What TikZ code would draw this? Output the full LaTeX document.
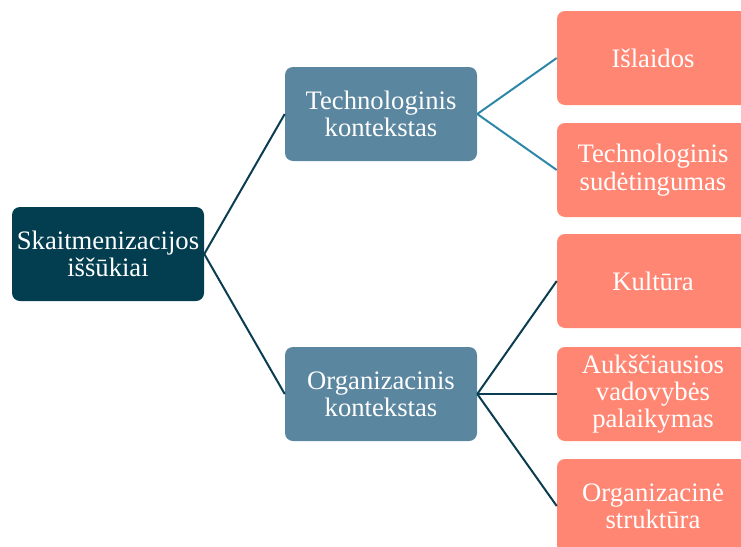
\documentclass[tikz,border=0pt]{standalone}
\usepackage{fontspec}
\setmainfont{Liberation Serif}
\definecolor{rootcol}{HTML}{023E50}
\definecolor{midcol}{HTML}{5B869F}
\definecolor{leafcol}{HTML}{FF8673}
\definecolor{darkline}{HTML}{0A3D50}
\definecolor{lightline}{HTML}{2F87A8}
\tikzset{
    box/.style={rectangle,rounded corners=6pt,minimum width=144pt,minimum height=70.5pt,
        align=center,text=white,inner sep=2pt,font=\fontsize{20}{20.5}\selectfont},
    rootbox/.style={box,fill=rootcol},
    midbox/.style={box,fill=midcol},
    leafbox/.style={box,fill=leafcol},
    link/.style={line width=1.5pt,darkline},
    sublink/.style={line width=1.5pt,lightline}
}
\begin{document}
\begin{tikzpicture}[x=0.75pt,y=-0.75pt]
                \clip (0,0) rectangle (741,546);
                \useasboundingbox (0,0) rectangle (741,546);
                \node[rootbox] (root) at (108,254) {Skaitmenizacijos\\iššūkiai};
                \node[midbox] (tech) at (381,114) {Technologinis\\kontekstas};
                \node[midbox] (org) at (381,394) {Organizacinis\\kontekstas};
                \node[leafbox] (costs) at (653,58) {Išlaidos};
                \node[leafbox] (complex) at (653,170) {Technologinis\\sudėtingumas};
                \node[leafbox] (culture) at (653,281) {Kultūra};
                \node[leafbox] (support) at (653,394) {Aukščiausios\\vadovybės\\palaikymas};
                \node[leafbox] (struct) at (653,506) {Organizacinė\\struktūra};
                \draw[link] (root.east) -- (tech.west);
                \draw[link] (root.east) -- (org.west);
                \draw[sublink] (tech.east) -- (costs.west);
                \draw[sublink] (tech.east) -- (complex.west);
                \foreach \leaf in {culture,support,struct}
                {
                    \draw[link] (org.east) -- (\leaf.west);
                }
            \end{tikzpicture}
\end{document}
